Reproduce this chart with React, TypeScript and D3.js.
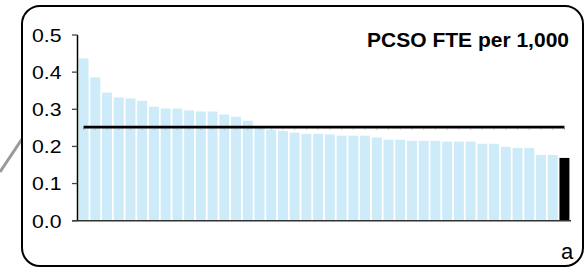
import React, { useEffect } from 'react';
import * as d3 from 'd3';

// PCSO FTE per 1,000 population, sorted descending; last bar is the highlighted force
const values: number[] = [
    0.437, 0.386, 0.345, 0.332, 0.329, 0.323, 0.307, 0.302, 0.302, 0.297,
    0.294, 0.294, 0.286, 0.28, 0.269, 0.255, 0.245, 0.242, 0.237, 0.234,
    0.234, 0.232, 0.229, 0.229, 0.229, 0.224, 0.218, 0.218, 0.215, 0.215,
    0.215, 0.213, 0.213, 0.213, 0.207, 0.207, 0.199, 0.196, 0.196, 0.177,
    0.177, 0.169,
];
const categories: string[] = values.map((_, i) => `f${i + 1}`);
const highlighted = categories[categories.length - 1];
const average = 0.252;
const yTicks: number[] = [0, 0.1, 0.2, 0.3, 0.4, 0.5];
const title = 'PCSO FTE per 1,000';
const panelLabel = 'a';

const W = 586;
const H = 268;

const App: React.FC = () => {
    useEffect(() => {
        document.body.style.margin = '0';
    }, []);

    // scales
    const x = d3
        .scaleBand<string>()
        .domain(categories)
        .range([77.7, 570.3])
        .paddingInner(0.15)
        .paddingOuter(0.075);

    const y = d3.scaleLinear().domain([0, 0.5]).range([220.7, 35]);

    const avgLine = d3
        .line<string>()
        .x((c) => x(c)! + x.bandwidth() / 2)
        .y(() => y(average));

    return (
        <svg width={W} height={H} style={{ display: 'block' }} fontFamily="Arial, 'Liberation Sans', sans-serif">
            {/* connector line from the left */}
            <line x1={0} y1={172} x2={22} y2={139} stroke="#9a9a9a" strokeWidth={3} />

            {/* rounded frame */}
            <rect x={22} y={6} width={561} height={260} rx={18} ry={18} fill="#fff" stroke="#000" strokeWidth={2} />

            {/* bars */}
            {categories.map((c, i) => (
                <rect
                    key={c}
                    x={x(c)}
                    y={y(values[i])}
                    width={x.bandwidth()}
                    height={y(0) - y(values[i])}
                    fill={c === highlighted ? '#000' : '#cdebf8'}
                />
            ))}

            {/* average line with small markers */}
            <path d={avgLine(categories) ?? ''} fill="none" stroke="#000" strokeWidth={2.6} />
            {categories.map((c) => (
                <line
                    key={'m' + c}
                    x1={x(c)! + x.bandwidth() / 2}
                    x2={x(c)! + x.bandwidth() / 2}
                    y1={y(average) + 1}
                    y2={y(average) + 2.3}
                    stroke="#777"
                    strokeWidth={1}
                />
            ))}

            {/* x baseline */}
            <line x1={72} x2={571} y1={y(0)} y2={y(0)} stroke="#333" strokeWidth={1.5} />

            {/* y axis */}
            <line x1={77.5} x2={77.5} y1={y(0.5)} y2={y(0)} stroke="#000" strokeWidth={1.5} />
            {yTicks.map((t) => (
                <g key={t}>
                    <line x1={72} x2={77.5} y1={y(t)} y2={y(t)} stroke="#444" strokeWidth={1.3} />
                    <text
                        x={61.5}
                        y={y(t) + 6.8}
                        textAnchor="end"
                        fontSize={18}
                        textLength={29.5}
                        lengthAdjust="spacingAndGlyphs"
                        fill="#000"
                    >
                        {d3.format('.1f')(t)}
                    </text>
                </g>
            ))}

            {/* title */}
            <text x={569} y={47} textAnchor="end" fontSize={21} fontWeight="bold" fill="#000">
                {title}
            </text>

            {/* panel label */}
            <text x={561} y={259} fontSize={22} fill="#000">
                {panelLabel}
            </text>
        </svg>
    );
};

export default App;
